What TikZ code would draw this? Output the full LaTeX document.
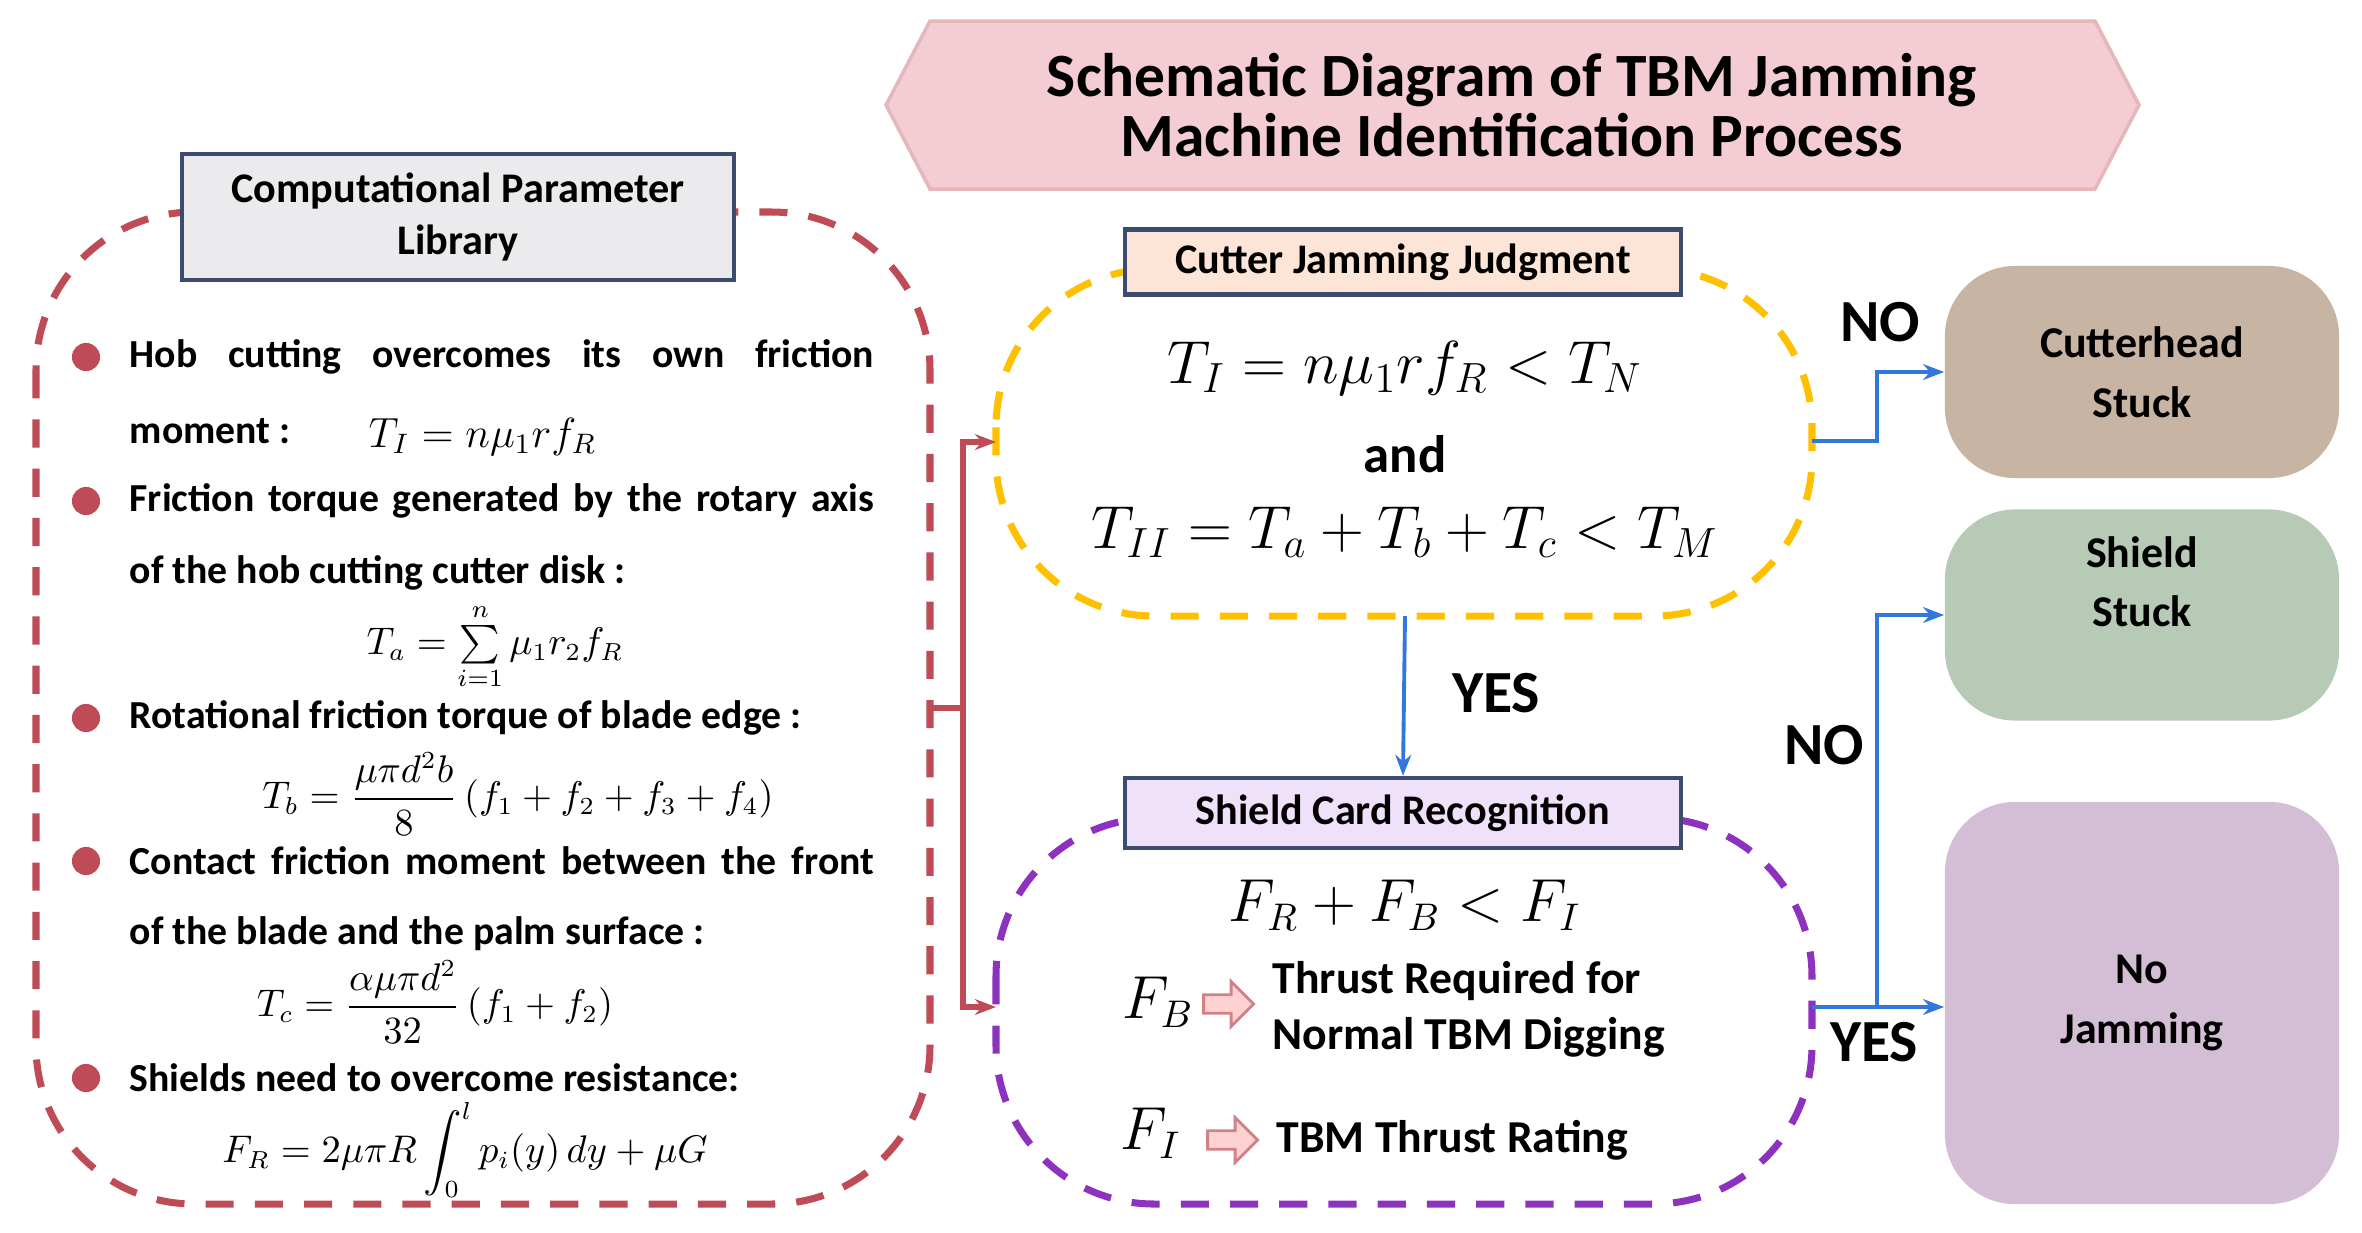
\documentclass[tikz,border=0pt]{standalone}
\usepackage{amsmath}
\usepackage{fontspec}
\setmainfont{Carlito}
\usetikzlibrary{shapes.geometric,shapes.arrows,arrows.meta}
\definecolor{redd}{RGB}{190,75,85}
\definecolor{yel}{RGB}{255,192,0}
\definecolor{pur}{RGB}{140,50,190}
\definecolor{blu}{RGB}{50,120,220}
\definecolor{edge}{RGB}{60,75,110}
\tikzset{
 lbl/.style={draw=edge,line width=1.2pt,font=\bfseries\fontsize{12}{15}\selectfont,align=center,inner sep=0pt},
 res/.style={rounded corners=20pt,inner sep=0pt,font=\bfseries\fontsize{12.5}{17}\selectfont,align=center},
 dsh/.style={line width=2pt,dash pattern=on 8pt off 6pt,rounded corners=45pt},
 txt/.style={font=\bfseries\fontsize{11.3}{13}\selectfont,anchor=west,inner sep=0pt},
 bul/.style={circle,fill=redd,minimum size=8pt,inner sep=0pt},
 ba/.style={blu,line width=1.1pt,-{Stealth[length=6pt]}},
 big/.style={font=\bfseries\fontsize{17}{20}\selectfont,inner sep=0pt},
 mth/.style={font=\fontsize{10.5}{13}\selectfont,inner sep=0pt},
 bmth/.style={font=\fontsize{17}{20}\selectfont,inner sep=0pt},
 parr/.style={single arrow,draw=redd!70,fill=pink!70,line width=0.8pt,minimum height=0.5cm,minimum width=0.45cm,single arrow head extend=2pt,inner sep=1pt}
}
\begin{document}
\begin{tikzpicture}[x=0.01cm,y=-0.01cm]
\useasboundingbox (0,0) rectangle (2362,1232);
% title
\path[draw=redd!40,fill={rgb,255:red,244;green,204;blue,212},line width=1pt] (886,105) -- (930,21) -- (2095,21) -- (2139,105) -- (2095,189) -- (930,189) -- cycle;
\node[font=\bfseries\fontsize{17.5}{17}\selectfont,align=center] (t) at (1512,105) {Schematic Diagram of TBM Jamming\\Machine Identification Process};
% left box
\draw[dsh,redd] (36,212) rectangle (930,1204);
\node[lbl,fill={rgb,255:red,235;green,235;blue,238},minimum width=5.51cm,minimum height=1.26cm] (lib) at (458,217) {Computational Parameter\\Library};
\foreach \y in {357,501,718,861,1078} \node[bul] at (86,\y) {};
\node[txt] (l1) at (129,357) {\makebox[7.44cm][s]{Hob cutting overcomes its own friction}};
\node[txt] (l2) at (129,431) {moment :};
\node[mth,anchor=west,font=\fontsize{12}{14}\selectfont] (f1) at (368,437) {$T_I = n\mu_1 r f_R$};
\node[txt] (l3) at (129,501) {\makebox[7.44cm][s]{Friction torque generated by the rotary axis}};
\node[txt] (l4) at (129,573) {of the hob cutting cutter disk :};
\node[mth] (f2) at (495,647) {$T_a=\sum\limits_{i=1}^{n}\mu_1 r_2 f_R$};
\node[txt] (l5) at (129,718) {Rotational friction torque of blade edge :};
\node[mth] (f3) at (518,794) {$T_b=\dfrac{\mu\pi d^2 b}{8}\left(f_1+f_2+f_3+f_4\right)$};
\node[txt] (l6) at (129,861) {\makebox[7.44cm][s]{Contact friction moment between the front}};
\node[txt] (l7) at (129,934) {of the blade and the palm surface :};
\node[mth] (f4) at (435,1002) {$T_c=\dfrac{\alpha\mu\pi d^2}{32}\left(f_1+f_2\right)$};
\node[txt] (l8) at (129,1078) {Shields need to overcome resistance:};
\node[mth] (f5) at (465,1150) {$F_R=2\mu\pi R\displaystyle\int_0^l p_i(y)\,dy+\mu G$};
% yellow box
\draw[dsh,yel] (996,269) rectangle (1812,616);
\node[lbl,fill={rgb,255:red,252;green,228;blue,214},minimum width=5.56cm,minimum height=0.65cm] (cj) at (1403,262) {Cutter Jamming Judgment};
\node[bmth] (e1) at (1405,368) {$T_I=n\mu_1 r f_R<T_N$};
\node[font=\bfseries\fontsize{15}{18}\selectfont,inner sep=0pt] (and) at (1405,454) {and};
\node[bmth] (e2) at (1405,532) {$T_{II}=T_a+T_b+T_c<T_M$};
\coordinate (ys) at (1405,616);
% purple box
\draw[dsh,pur] (996,818) rectangle (1812,1204);
\node[lbl,fill={rgb,255:red,240;green,225;blue,250},minimum width=5.56cm,minimum height=0.70cm] (sc) at (1403,813) {Shield Card Recognition};
\node[bmth,font=\fontsize{16}{19}\selectfont] (e3) at (1405,905) {$F_R+F_B<F_I$};
\node[bmth,font=\fontsize{16}{19}\selectfont] (fb) at (1158,1002) {$F_B$};
\node[parr] (a1) at (1224,1004) {};
\node[font=\bfseries\fontsize{13}{16}\selectfont,align=left,anchor=west,inner sep=0pt] (tb) at (1272,1009) {Thrust Required for\\Normal TBM Digging};
\node[bmth,font=\fontsize{16}{19}\selectfont] (fi) at (1151,1133) {$F_I$};
\node[parr] (a2) at (1228,1140) {};
\node[font=\bfseries\fontsize{13}{16}\selectfont,anchor=west,inner sep=0pt] (tr) at (1276,1140) {TBM Thrust Rating};
% red connector
\coordinate (rs) at (930,708);
\coordinate (rj) at (963,708);
\coordinate (ry) at (996,442);
\coordinate (rp) at (996,1007);
\draw[redd,line width=1.5pt] (rs) -- (rj);
\draw[redd,line width=1.5pt,-{Stealth[length=6pt]}] (rj) |- (ry);
\draw[redd,line width=1.5pt,-{Stealth[length=6pt]}] (rj) |- (rp);
% results
\node[res,fill={rgb,255:red,200;green,180;blue,162},minimum width=3.94cm,minimum height=2.12cm] (cs) at (2142,372) {Cutterhead\\Stuck};
\node[res,fill={rgb,255:red,182;green,202;blue,182},minimum width=3.94cm,minimum height=2.11cm] (ss) at (2142,615) {Shield\\Stuck\\[2pt]};
\node[res,fill={rgb,255:red,212;green,190;blue,214},minimum width=3.94cm,minimum height=4.02cm] (nj) at (2142,1003) {No\\Jamming};
% blue arrows
\coordinate (yo) at (1812,441);
\coordinate (po) at (1812,1007);
\coordinate (bj) at (1877,1007);
\draw[ba] (yo) -- (1877,441) |- (cs.west);
\draw[ba] (po) -- (nj.west |- po);
\draw[ba] (bj) |- (ss.west);
\draw[ba] (ys) -- (sc.north);
\node[big] (no1) at (1880,322) {NO};
\node[big] (yes1) at (1496,693) {YES};
\node[big] (no2) at (1824,745) {NO};
\node[big] (yes2) at (1874,1042) {YES};
\end{tikzpicture}
\end{document}
